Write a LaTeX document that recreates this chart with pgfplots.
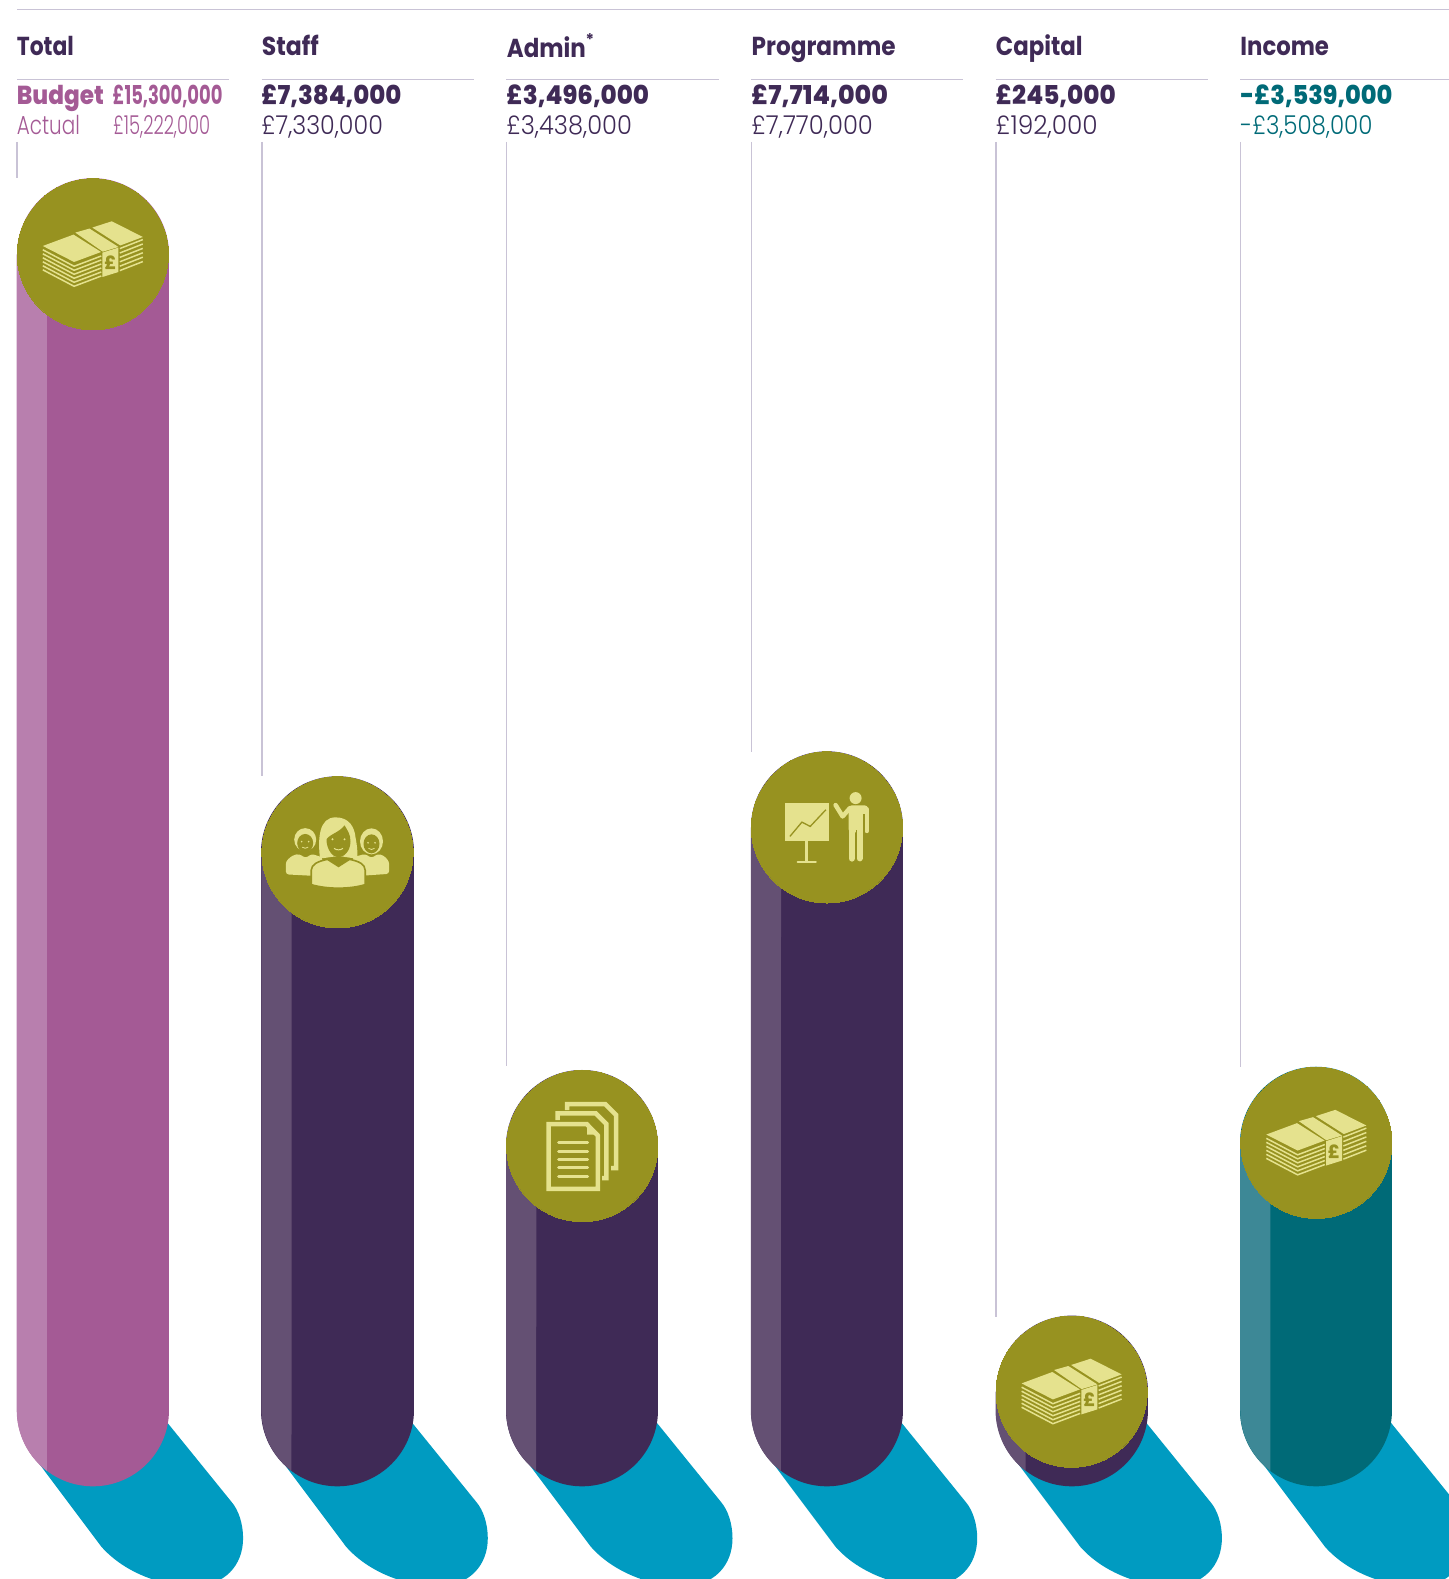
\documentclass[border=0pt]{standalone}
\usepackage{graphicx}
\usepackage{fontspec}
\usepackage{pgfplots}
\pgfplotsset{compat=1.18}
\setmainfont{Poppins}
\newfontfamily\headfont{Poppins Bold}
\newfontfamily\budgetfont{Poppins ExtraBold}
\newfontfamily\actualfont{Poppins Light}

\definecolor{plum}{HTML}{3F2A56}
\definecolor{plumlight}{HTML}{645073}
\definecolor{mauve}{HTML}{A45A95}
\definecolor{mauvelight}{HTML}{B87FAE}
\definecolor{teal2}{HTML}{006A77}
\definecolor{teallight}{HTML}{3D8896}
\definecolor{shadowblue}{HTML}{009BC1}
\definecolor{olive2}{HTML}{979220}
\definecolor{iconfill}{HTML}{E5E28E}
\definecolor{rulecol}{HTML}{C9C3D6}

% one layer of the note stack: left block, then right block
\newcommand{\chevL}[1]{\draw[iconfill,line width=.75pt] (-50,{-4.5+#1})--(-18.7,{12+#1})--(8.5,{1.7+#1});}
\newcommand{\chevR}[1]{\draw[iconfill,line width=.75pt] (27,{-5.7+#1})--(50,{-14.7+#1});}

\newcommand{\moneyicon}{%
  \fill[iconfill] (-50,-8.3)--(-19.3,-19.7)--(8.3,-2.3)--(-18.7,7.7)--cycle;
  \fill[iconfill] (-17.5,-21.7)--(-3.3,-25.7)--(25.7,-7.3)--(10,-2.6)--cycle;
  \fill[iconfill] (-0.5,-26.7)--(19,-33)--(50,-17.3)--(27.5,-8.8)--cycle;
  \chevL{0}\chevL{4}\chevL{8}\chevL{12}\chevL{16}\chevL{20}
  \chevR{0}\chevR{4.4}\chevR{8.8}\chevR{13.2}\chevR{17.6}\chevR{22}
  \fill[iconfill] (9.7,-1.7)--(25.7,-6.7)--(25.7,17.7)--(9.7,22.7)--cycle;
  \node[inner sep=0,text=olive2,font=\budgetfont\fontsize{9}{9}\selectfont] at (17.7,8.5) {£};
}

\newcommand{\staffshoulders}{%
  \fill[iconfill,rounded corners=1.5pt] (-51.7,22) -- (-51.7,9) -- (-45,3) -- (-38,1.5) -- (-32,6) -- (-26,1.5) -- (-15,5) -- (-15,24) -- cycle;
  \fill[iconfill,rounded corners=1.5pt] (51.7,21.5) -- (51.7,9) -- (46,3) -- (40,1.5) -- (34,6) -- (28,1.5) -- (15,5) -- (15,24) -- cycle;
}
\newcommand{\staffhead}[2]{%
  \fill[iconfill] (#1,#2) ellipse [x radius=11,y radius=11.5];
  \fill[olive2] (#1,#2+3.5) ellipse [x radius=8,y radius=9.2];
  \fill[iconfill] (#1-3.5,#2+2) circle (.9);
  \fill[iconfill] (#1+3.5,#2+2) circle (.9);
  \draw[iconfill,line width=.4pt] (#1-3,#2+7.5) .. controls (#1-1,#2+9) and (#1+1,#2+9) .. (#1+3,#2+7.5);
}
\newcommand{\peopleicon}{%
  \staffshoulders
  \staffhead{-32.3}{-12.7}
  \fill[iconfill] (34,-11) ellipse [x radius=11.5,y radius=13];
  \fill[olive2] (34,-8.5) ellipse [x radius=8,y radius=9.5];
  \fill[iconfill] (30.5,-9.5) circle (.9);
  \fill[iconfill] (37.5,-9.5) circle (.9);
  \draw[iconfill,line width=.4pt] (31,-4) .. controls (33,-2.5) and (35,-2.5) .. (37,-4);
  % centre figure
  \fill[iconfill] (-17.5,6) .. controls (-20,-15) and (-18,-35) .. (-2,-35)
     .. controls (12,-35) and (17,-25) .. (18,-15) .. controls (20,-5) and (20,2) .. (20,6)
     .. controls (12,6) and (8,4) .. (1,4) .. controls (-6,4) and (-12,6) .. (-17.5,6) -- cycle;
  \fill[olive2] (-11,-13) .. controls (-8,-18) and (2,-20) .. (7,-27)
     .. controls (10,-22) and (13,-18) .. (13,-11) .. controls (13,-1) and (6,5) .. (1,5)
     .. controls (-5,5) and (-11,-3) .. (-11,-13) -- cycle;
  \fill[iconfill] (-5,-13) circle (1.1);
  \fill[iconfill] (7,-13) circle (1.1);
  \draw[iconfill,line width=.5pt] (-3.5,-4) .. controls (-1,-2) and (3,-2) .. (5.5,-4);
  \fill[iconfill,draw=olive2,line width=.8pt] (-26.3,32.3) -- (-26.3,18) .. controls (-26,12) and (-20,9) .. (-10,7)
     -- (1,14) -- (12,7) .. controls (22,9) and (27.5,12) .. (27.7,18) -- (27.7,32.3)
     .. controls (12,37) and (-10,37) .. (-26.3,32.3) -- cycle;
}

\newcommand{\docsicon}{%
  \draw[iconfill,line width=2.25pt] (-15,-36)--(-15,-42)--(23,-42)--(34,-31)--(34,22)--(29,22);
  \draw[iconfill,line width=2.25pt] (-24.7,-26)--(-24.7,-32.7)--(13.5,-32.7)--(24.2,-22)--(24.2,32)--(20,32);
  \fill[olive2] (-36,-24.3)--(5.3,-24.3)--(18,-11.7)--(18,45)--(-36,45)--cycle;
  \draw[iconfill,line width=2.25pt,line join=miter] (-33.7,-22)--(4.5,-22)--(15.7,-10.5)--(15.7,42.7)--(-33.7,42.7)--cycle;
  \fill[iconfill] (5,-21)--(5,-11.5)--(15,-11.5)--cycle;
  \draw[iconfill,line width=1.5pt,line cap=round] (-23.5,-3.3)--(5.5,-3.3);
  \draw[iconfill,line width=1.5pt,line cap=round] (-23.5,5)--(5.5,5);
  \draw[iconfill,line width=1.5pt,line cap=round] (-23.5,13.3)--(5.5,13.3);
  \draw[iconfill,line width=1.5pt,line cap=round] (-23.5,21.7)--(5.5,21.7);
  \draw[iconfill,line width=1.5pt,line cap=round] (-23.5,30)--(5.5,30);
}

\newcommand{\presenticon}{%
  \fill[iconfill] (-42.3,-24.7) rectangle (2.3,13.3);
  \draw[olive2,line width=.65pt] (-37,9)--(-25,-5.3)--(-16.7,-1)--(-1,-17.7);
  \draw[iconfill,line width=1.35pt] (-20.3,13.3)--(-20.3,35);
  \draw[iconfill,line width=1.15pt,line cap=round] (-29.2,34.7)--(-11.2,34.7);
  \fill[iconfill] (28.7,-29.3) circle (6);
  \fill[iconfill,rounded corners=1.5pt] (21.7,-22) rectangle (41,5);
  \draw[iconfill,line width=2.25pt,line cap=round,line join=round] (8.7,-22.3)--(15.7,-11)--(23,-19.3);
  \fill[olive2] (36.2,-13) rectangle (38,6);
  \draw[iconfill,line width=2.3pt,line cap=round] (40,-18)--(40,3.5);
  \draw[iconfill,line width=3.2pt,line cap=round] (25,0)--(25,31);
  \draw[iconfill,line width=3pt,line cap=round] (32.7,0)--(32.7,31);
  \fill[olive2] (28.6,3) rectangle (29.2,35);
}

% drop shadow under a column, in pixels from the lower cap's centre
\newcommand{\shadow}[1]{%
  \begin{scope}[shift={(axis cs:#1,0)},x=.5pt,y=-.5pt]
    \fill[shadowblue] (75,13) -- (138.6,91.5) .. controls (146,100) and (150.3,114) .. (150.3,128)
      .. controls (150.3,155) and (132,176) .. (100,176) .. controls (70,176) and (32,163) .. (8.6,136.5)
      -- (-56.4,49.8) -- cycle;
  \end{scope}
}

% column: index, budget in GBP millions, body colour, highlight colour
\newcommand{\budgetcolumn}[4]{%
  \addplot[ycomb,mark=none,#3,line width=76.1pt,line cap=round] coordinates {(#1,#2)};
  \fill[#4] ([xshift=-38.05pt]axis cs:#1,#2) -- ([xshift=-38.05pt]axis cs:#1,0)
     arc[start angle=180,end angle=232.8,radius=38.05pt] -- ([xshift=-22.95pt]axis cs:#1,#2) -- cycle;
  \addplot[only marks,mark=*,mark size=37.8pt,mark options={fill=olive2,draw=olive2,line width=0pt}] coordinates {(#1,#2)};
  \coordinate (cap#1) at (axis cs:#1,#2);
}

% icon centred on a column's top cap
\newcommand{\iconat}[2]{\begin{scope}[shift={(cap#1)},x=.5pt,y=-.5pt]#2\end{scope}}

% fitted text: x, baseline y, width (all pixels), font, colour, text
\newcommand{\fit}[6]{\node[anchor=base west,inner sep=0,text=#5] at (#1,#2)
  {\resizebox{\dimexpr #3pt/2\relax}{\height}{\fontsize{13}{15}#4\selectfont #6}};}

\begin{document}
\begin{tikzpicture}
\clip[use as bounding box] (0,0) rectangle (724.5pt,789.5pt);
\begin{axis}[
  at={(0,0)},anchor=south west,scale only axis,
  width=724.5pt,height=789.5pt,
  xmin=-0.3792,xmax=5.5422,ymin=-2.234,ymax=18.666,
  hide axis,clip=true]
  \shadow{0}\shadow{1}\shadow{2}\shadow{3}\shadow{4}\shadow{5}
  \budgetcolumn{0}{15.300}{mauve}{mauvelight}
  \budgetcolumn{1}{7.384}{plum}{plumlight}
  \budgetcolumn{2}{3.496}{plum}{plumlight}
  \budgetcolumn{3}{7.714}{plum}{plumlight}
  \budgetcolumn{4}{0.245}{plum}{plumlight}
  \budgetcolumn{5}{3.539}{teal2}{teallight}
\end{axis}

\iconat{0}{\moneyicon}
\iconat{1}{\peopleicon}
\iconat{2}{\docsicon}
\iconat{3}{\presenticon}
\iconat{4}{\moneyicon}
\iconat{5}{\moneyicon}

\begin{scope}[yshift=789.5pt,x=.5pt,y=-.5pt]
  % header rules and leader lines
  \draw[rulecol,line width=.7pt] (17,9.3) -- (1449,9.3);
  \draw[rulecol,line width=.65pt] (17,79.5)--(229,79.5);
  \draw[rulecol,line width=.65pt] (261.5,79.5)--(474,79.5);
  \draw[rulecol,line width=.65pt] (506,79.5)--(719,79.5);
  \draw[rulecol,line width=.65pt] (751,79.5)--(963,79.5);
  \draw[rulecol,line width=.65pt] (995.5,79.5)--(1208,79.5);
  \draw[rulecol,line width=.65pt] (1240,79.5)--(1449,79.5);
  \draw[rulecol,line width=.7pt] (17,142)--(17,178.2);
  \draw[rulecol,line width=.7pt] (261.9,142)--(261.9,776.4);
  \draw[rulecol,line width=.7pt] (506.6,142)--(506.6,1066.4);
  \draw[rulecol,line width=.7pt] (751.3,142)--(751.3,752.2);
  \draw[rulecol,line width=.7pt] (996,142)--(996,1317);
  \draw[rulecol,line width=.7pt] (1240.7,142)--(1240.7,1067.4);

  % column headings
  \fit{16.5}{56}{57}{\headfont}{plum}{Total}
  \fit{261.5}{56}{57}{\headfont}{plum}{Staff}
  \fit{506.5}{58}{79}{\headfont}{plum}{Admin}
  \node[inner sep=0,text=plum,font=\headfont\fontsize{8}{8}\selectfont] at (590,40) {*};
  \fit{751.2}{56}{144}{\headfont}{plum}{Programme}
  \fit{995.5}{56}{86.6}{\headfont}{plum}{Capital}
  \fit{1240}{56}{88.6}{\headfont}{plum}{Income}

  % budget and actual figures
  \fit{16.5}{105}{87}{\budgetfont}{mauve}{Budget}
  \fit{112.2}{105}{110}{\headfont}{mauve}{£15,300,000}
  \fit{16.5}{135}{63}{\actualfont}{mauve}{Actual}
  \fit{112.8}{135}{97}{\actualfont}{mauve}{£15,222,000}
  \fit{261}{105}{140}{\budgetfont}{plum}{£7,384,000}
  \fit{261}{135}{121.5}{\actualfont}{plum}{£7,330,000}
  \fit{506}{105}{142.7}{\budgetfont}{plum}{£3,496,000}
  \fit{506}{135}{125.5}{\actualfont}{plum}{£3,438,000}
  \fit{751}{105}{136.5}{\budgetfont}{plum}{£7,714,000}
  \fit{751}{135}{121.5}{\actualfont}{plum}{£7,770,000}
  \fit{995.3}{105}{120}{\budgetfont}{plum}{£245,000}
  \fit{995.3}{135}{102}{\actualfont}{plum}{£192,000}
  \fit{1240}{105}{152}{\budgetfont}{teal2}{-£3,539,000}
  \fit{1240}{135}{132}{\actualfont}{teal2}{-£3,508,000}
\end{scope}
\end{tikzpicture}
\end{document}
